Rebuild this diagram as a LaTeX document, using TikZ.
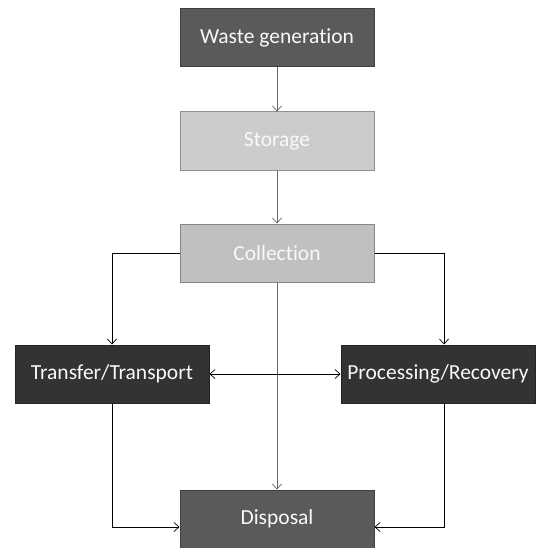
\documentclass[tikz,border=0pt]{standalone}
\usepackage{fontspec}
\setmainfont[RawFeature={-liga;-calt;-clig;-dlig}]{Carlito}
\usetikzlibrary{arrows.meta}
\definecolor{boxdark}{HTML}{5A5A5A}
\definecolor{boxblack}{HTML}{333333}
\definecolor{boxlight}{HTML}{CCCCCC}
\definecolor{boxmid}{HTML}{C0C0C0}
\begin{document}
\begin{tikzpicture}[x=1pt, y=-1pt,
    stage/.style={draw=#1!70!black, fill=#1, line width=1pt, text=white!95!gray,
      minimum width=194pt, minimum height=58pt, inner sep=0pt, font=\fontsize{21.5}{24}\selectfont},
    flow/.style={-{Straight Barb[length=5pt,width=9pt]}, line width=0.7pt}
  ]
    \useasboundingbox (0,0) rectangle (540,548);
    % Stages
    \node[stage=boxdark]  (gen)   at (277,38)  {Waste generation};
    \node[stage=boxlight] (store) at (277,141) {Storage};
    \node[stage=boxmid]   (coll)  at (277,253) {Collection};
    \node[stage=boxblack] (trans) at (112,374) {Transfer/Transport};
    \node[stage=boxblack] (proc)  at (438,374) {Processing/Recovery};
    \node[stage=boxdark]  (disp)  at (277,519) {Disposal};
    % Main chain
    \draw[flow, gray!80!black] (gen) -- (store);
    \draw[flow, gray!80!black] (store) -- (coll);
    \draw[flow, gray!80!black] (coll) -- (disp);
    % Branches from collection
    \draw[flow] (coll.west) -| (trans.north);
    \draw[flow] (coll.east) -| ([xshift=6pt]proc.north);
    \draw[flow, {Straight Barb[length=5pt,width=9pt]}-{Straight Barb[length=5pt,width=9pt]}] (trans) -- (proc);
    % Into disposal
    \draw[flow] (trans.south) |- ([yshift=-8pt]disp.west);
    \draw[flow] ([xshift=6pt]proc.south) |- ([yshift=-8pt]disp.east);
\end{tikzpicture}
\end{document}
